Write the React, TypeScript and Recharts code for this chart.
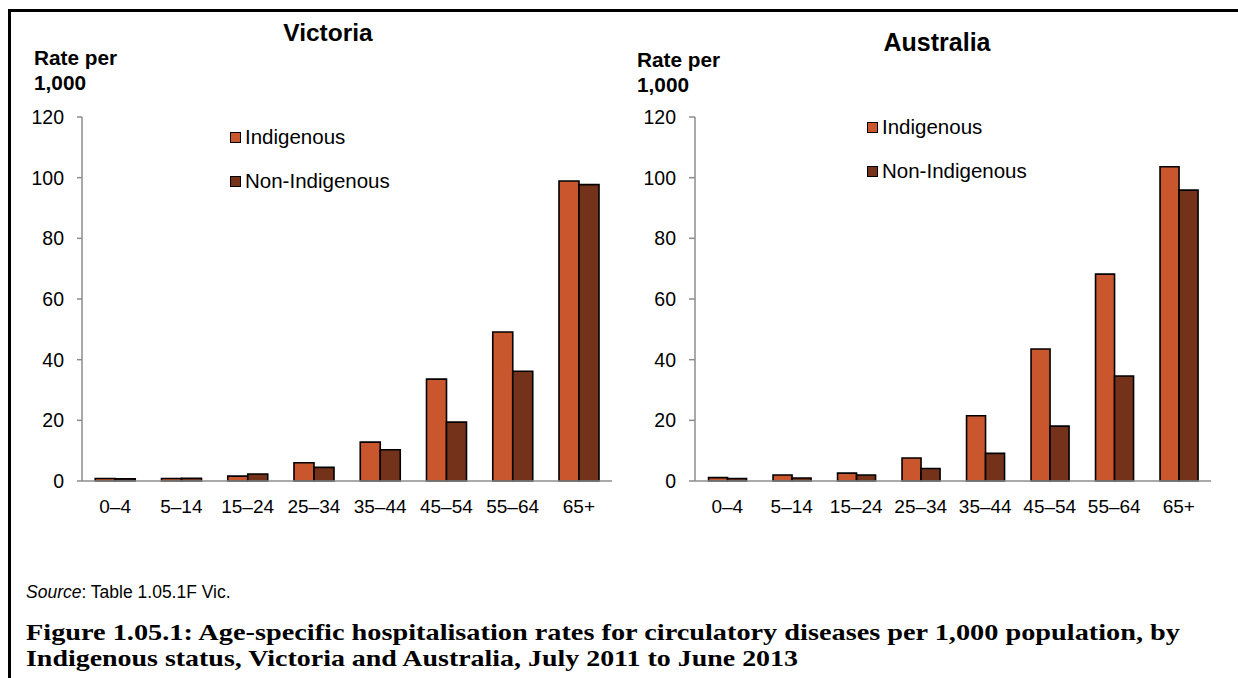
import React from "react";
import { BarChart, Bar, XAxis, YAxis } from "recharts";

const ageGroups = ["0–4", "5–14", "15–24", "25–34", "35–44", "45–54", "55–64", "65+"];
const yTicks = [0, 20, 40, 60, 80, 100, 120];

const vicIndigenous = [0.8, 0.8, 1.6, 6.0, 12.8, 33.6, 49.1, 98.9];
const vicNonIndigenous = [0.7, 0.9, 2.3, 4.5, 10.3, 19.4, 36.2, 97.7];

const ausIndigenous = [1.1, 2.0, 2.6, 7.6, 21.5, 43.5, 68.2, 103.6];
const ausNonIndigenous = [0.8, 1.0, 2.0, 4.1, 9.1, 18.1, 34.6, 95.9];

const IND_COLOR = "#C9562C";
const NON_COLOR = "#74321A";
const AXIS_COLOR = "#8c8c8c";
const FONT = "'Liberation Sans', Arial, sans-serif";

const toRows = (ind: number[], non: number[]) =>
  ageGroups.map((g, i) => ({ group: g, indigenous: ind[i], nonIndigenous: non[i] }));

interface PanelProps {
  title: string;
  ind: number[];
  non: number[];
  left: number;
  width: number;
  plotLeft: number;
  plotRight: number;
  plotTop: number;
  plotBottom: number;
  tickSize: number;
  titleX: number;
  titleY: number;
  titleSize: number;
  unitX: number;
  unitY: number;
  legendX: number;
  legendY: number;
  legendGap: number;
  gap: string;
}

function Panel(p: PanelProps) {
  const data = toRows(p.ind, p.non);
  const height = 540;
  const xAxisH = 36;
  return (
    <>
      <BarChart
        width={p.width}
        height={height}
        data={data}
        barCategoryGap={p.gap}
        barGap={0}
        margin={{
          top: p.plotTop,
          right: p.width - p.plotRight,
          bottom: height - p.plotBottom - xAxisH,
          left: 0,
        }}
        style={{ position: "absolute", left: p.left, top: 0 }}
      >
        <XAxis
          dataKey="group"
          height={xAxisH}
          tickLine={false}
          tickSize={0}
          tickMargin={19}
          axisLine={{ stroke: AXIS_COLOR, strokeWidth: 1.5 }}
          tick={{ fill: "#000", fontSize: 19, fontFamily: FONT }}
          interval={0}
        />
        <YAxis
          width={p.plotLeft}
          domain={[0, 120]}
          ticks={yTicks}
          tickSize={p.tickSize}
          tickMargin={13}
          axisLine={{ stroke: AXIS_COLOR, strokeWidth: 1.5 }}
          tickLine={{ stroke: AXIS_COLOR, strokeWidth: 1.5 }}
          tick={{ fill: "#000", fontSize: 19.5, fontFamily: FONT }}
        />
        <Bar
          dataKey="indigenous"
          fill={IND_COLOR}
          stroke="#000"
          strokeWidth={1.6}
          isAnimationActive={false}
        />
        <Bar
          dataKey="nonIndigenous"
          fill={NON_COLOR}
          stroke="#000"
          strokeWidth={1.6}
          isAnimationActive={false}
        />
      </BarChart>
      <div
        style={{
          position: "absolute",
          left: p.left + p.titleX,
          top: p.titleY,
          transform: "translate(-50%, -50%)",
          fontFamily: FONT,
          fontWeight: "bold",
          fontSize: p.titleSize,
          whiteSpace: "nowrap",
        }}
      >
        {p.title}
      </div>
      <div
        style={{
          position: "absolute",
          left: p.left + p.unitX,
          top: p.unitY,
          fontFamily: FONT,
          fontWeight: "bold",
          fontSize: 20.8,
          lineHeight: "25px",
        }}
      >
        Rate per
        <br />
        1,000
      </div>
      {[
        { label: "Indigenous", color: IND_COLOR },
        { label: "Non-Indigenous", color: NON_COLOR },
      ].map((item, i) => (
        <div
          key={item.label}
          style={{
            position: "absolute",
            left: p.left + p.legendX,
            top: p.legendY + i * p.legendGap,
            display: "flex",
            alignItems: "center",
            fontFamily: FONT,
            fontSize: 20.5,
            height: 24,
            whiteSpace: "nowrap",
          }}
        >
          <span
            style={{
              display: "inline-block",
              width: 9,
              height: 9,
              background: item.color,
              border: "1.5px solid #000",
              marginRight: 4,
            }}
          />
          {item.label}
        </div>
      ))}
    </>
  );
}

export default function App() {
  return (
    <div
      style={{
        position: "fixed",
        inset: 0,
        overflow: "hidden",
        background: "#fff",
      }}
    >
      <div
        style={{
          position: "absolute",
          left: 8,
          top: 9,
          width: 1300,
          height: 760,
          borderTop: "3px solid #000",
          borderLeft: "3px solid #000",
        }}
      />
      <Panel
        title="Victoria"
        ind={vicIndigenous}
        non={vicNonIndigenous}
        left={0}
        width={640}
        plotLeft={82}
        plotRight={612}
        plotTop={117}
        plotBottom={481}
        tickSize={5}
        titleX={328}
        titleY={33}
        titleSize={24.5}
        unitX={34}
        unitY={45}
        legendX={230}
        legendY={125}
        legendGap={44}
        gap="20%"
      />
      <Panel
        title="Australia"
        ind={ausIndigenous}
        non={ausNonIndigenous}
        left={610}
        width={628}
        plotLeft={85}
        plotRight={601}
        plotTop={117}
        plotBottom={481}
        tickSize={6}
        titleX={327}
        titleY={42}
        titleSize={25}
        unitX={27}
        unitY={47}
        legendX={257}
        legendY={115}
        legendGap={44}
        gap="21%"
      />
      <div
        style={{
          position: "absolute",
          left: 26,
          top: 582,
          fontFamily: FONT,
          fontSize: 17.5,
          whiteSpace: "nowrap",
        }}
      >
        <i>Source</i>: Table 1.05.1F Vic.
      </div>
      <svg
        width={1238}
        height={80}
        style={{ position: "absolute", left: 0, top: 608 }}
      >
        <g
          fontFamily="'Liberation Serif', 'Times New Roman', serif"
          fontWeight="bold"
          fontSize={24}
          fill="#000"
        >
          <text x={26} y={32} textLength={1154} lengthAdjust="spacingAndGlyphs">
            Figure 1.05.1: Age-specific hospitalisation rates for circulatory diseases per 1,000 population, by
          </text>
          <text x={26} y={58} textLength={772} lengthAdjust="spacingAndGlyphs">
            Indigenous status, Victoria and Australia, July 2011 to June 2013
          </text>
        </g>
      </svg>
    </div>
  );
}
